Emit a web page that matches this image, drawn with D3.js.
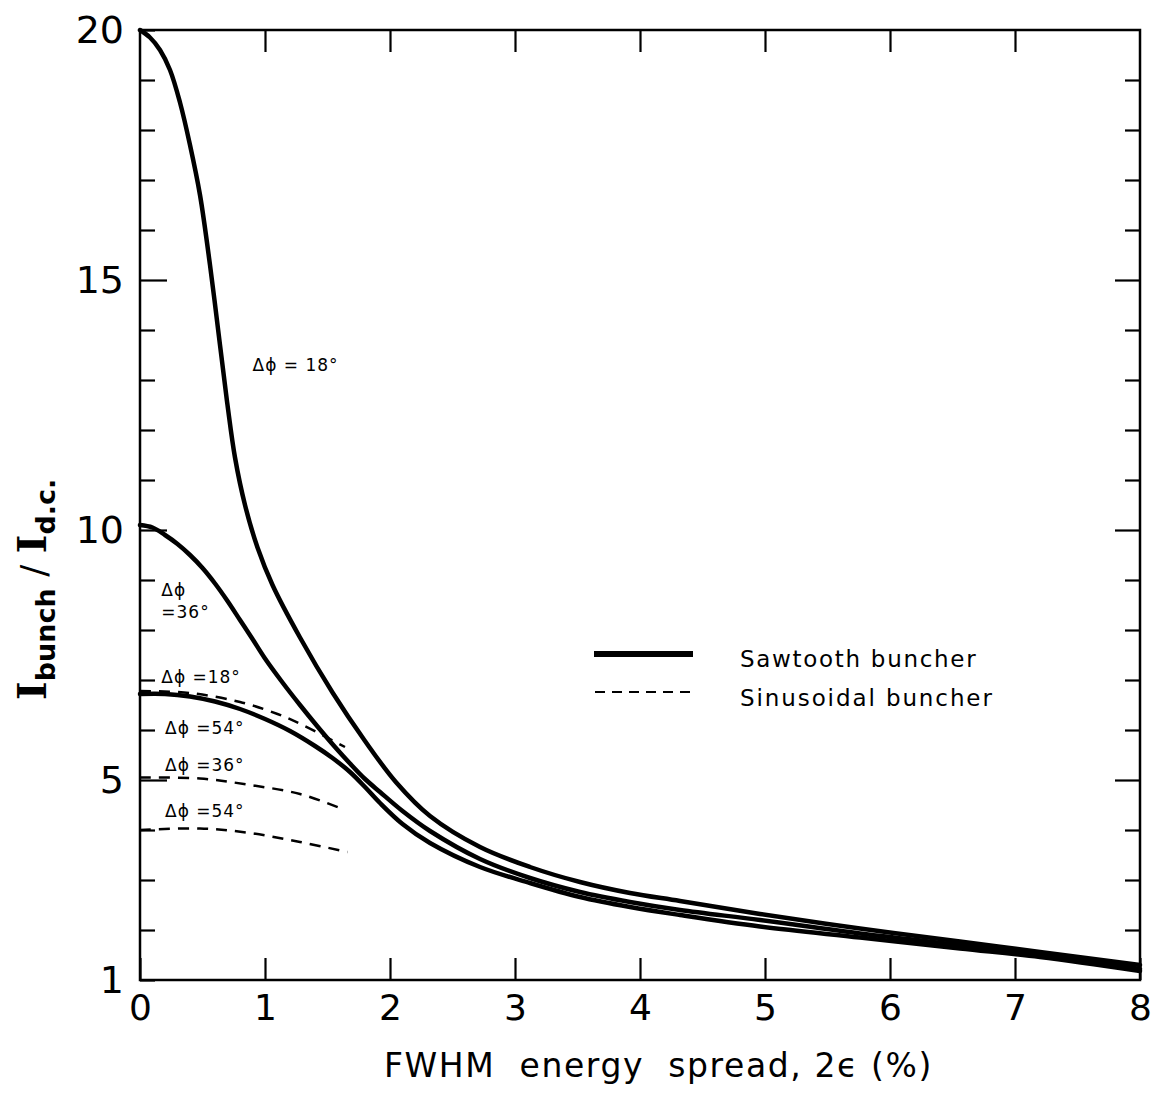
<!DOCTYPE html>
<html>
<head>
<meta charset="utf-8">
<script src="https://cdn.jsdelivr.net/npm/d3@7"></script>
<style>
  body { margin: 0; background: #fff; }
  text { font-family: "DejaVu Sans", sans-serif; fill: #000; }
</style>
</head>
<body>
<div id="chart"></div>
<script>
// Sawtooth buncher, delta phi = 18 deg
const saw18X = [0, 0.08, 0.16, 0.24, 0.32, 0.40, 0.48, 0.56, 0.64, 0.70, 0.76, 0.84, 0.94, 1.06, 1.28, 1.54, 1.80, 2.05, 2.32, 2.72, 3.12, 3.52, 3.92, 4.32, 4.96, 5.76, 6.56, 7.20, 8.0];
const saw18Y = [20, 19.85, 19.6, 19.2, 18.55, 17.7, 16.7, 15.3, 13.7, 12.5, 11.45, 10.5, 9.65, 8.9, 7.85, 6.75, 5.78, 4.95, 4.28, 3.66, 3.26, 2.96, 2.74, 2.58, 2.32, 2.03, 1.77, 1.56, 1.3];
// Sawtooth, 36 deg
const saw36X = [0, 0.1, 0.2, 0.3, 0.4, 0.5, 0.6, 0.7, 0.8, 0.9, 1.0, 1.14, 1.28, 1.42, 1.56, 1.68, 1.8, 1.92, 2.1, 2.32, 2.72, 3.12, 3.52, 3.92, 4.32, 4.96, 5.76, 6.56, 7.2, 8];
const saw36Y = [10.1, 10.05, 9.9, 9.72, 9.5, 9.24, 8.93, 8.58, 8.2, 7.82, 7.43, 6.95, 6.5, 6.07, 5.66, 5.33, 5.02, 4.76, 4.38, 3.98, 3.42, 3.04, 2.76, 2.56, 2.4, 2.2, 1.93, 1.7, 1.52, 1.22];
// Sawtooth, 54 deg
const saw54X = [0, 0.2, 0.4, 0.6, 0.8, 1.0, 1.2, 1.4, 1.54, 1.68, 1.8, 1.92, 2.1, 2.32, 2.72, 3.12, 3.52, 3.92, 4.32, 4.96, 5.76, 6.56, 7.2, 8];
const saw54Y = [6.72, 6.72, 6.67, 6.57, 6.42, 6.22, 5.98, 5.68, 5.44, 5.16, 4.86, 4.54, 4.12, 3.74, 3.26, 2.94, 2.66, 2.46, 2.3, 2.07, 1.85, 1.63, 1.46, 1.18];
// Sinusoidal buncher (dashed)
const sin18X = [0, 0.4, 0.8, 1.1, 1.3, 1.64];
const sin18Y = [6.78, 6.74, 6.56, 6.32, 6.1, 5.66];
const sin36X = [0, 0.48, 0.88, 1.28, 1.64];
const sin36Y = [5.05, 5.03, 4.9, 4.72, 4.4];
const sin54X = [0, 0.48, 0.88, 1.28, 1.66];
const sin54Y = [4.0, 4.03, 3.94, 3.76, 3.56];

const xTicks = [0, 1, 2, 3, 4, 5, 6, 7, 8];
const yTicks = d3.range(1, 21);
const yLabels = [1, 5, 10, 15, 20];
const yMajor = [5, 10, 15];

const width = 1159, height = 1094;
const svg = d3.select("#chart").append("svg")
    .attr("width", width)
    .attr("height", height)
    .style("background", "#fff");

const x = d3.scaleLinear().domain([0, 8]).range([140, 1140]);
const y = d3.scaleLinear().domain([1, 20]).range([980, 30]);

// frame
svg.append("rect")
    .attr("x", x(0)).attr("y", y(20))
    .attr("width", x(8) - x(0)).attr("height", y(1) - y(20))
    .attr("fill", "none").attr("stroke", "#000").attr("stroke-width", 2.5);

// bottom axis (ticks point inward)
const gx = svg.append("g")
    .attr("transform", `translate(0,${y(1)})`)
    .call(d3.axisBottom(x).tickValues(xTicks).tickSize(-22).tickPadding(14).tickFormat(d => d));
gx.select(".domain").remove();
gx.selectAll(".tick line").attr("stroke-width", 2.2);
gx.selectAll(".tick text").attr("font-size", 36).attr("font-family", "DejaVu Sans");

// top axis
const gt = svg.append("g")
    .attr("transform", `translate(0,${y(20)})`)
    .call(d3.axisTop(x).tickValues(xTicks.slice(1, 8)).tickSize(-22).tickFormat(""));
gt.select(".domain").remove();
gt.selectAll(".tick line").attr("stroke-width", 2.2);

// left axis
const gy = svg.append("g")
    .attr("transform", `translate(${x(0)},0)`)
    .call(d3.axisLeft(y).tickValues(yTicks).tickSize(-15).tickPadding(14)
        .tickFormat(d => yLabels.includes(d) ? d : ""));
gy.select(".domain").remove();
gy.selectAll(".tick line")
    .attr("x2", d => yMajor.includes(d) ? 27 : 15)
    .attr("stroke-width", 2.2);
gy.selectAll(".tick text").attr("font-size", 38).attr("font-family", "DejaVu Sans")
    .attr("x", -16);

// right axis
const gr = svg.append("g")
    .attr("transform", `translate(${x(8)},0)`)
    .call(d3.axisRight(y).tickValues(yTicks.slice(1, 19)).tickSize(-15).tickFormat(""));
gr.select(".domain").remove();
gr.selectAll(".tick line")
    .attr("x2", d => yMajor.includes(d) ? -25 : -15)
    .attr("stroke-width", 2.2);

// curves
const line = d3.line()
    .x(d => x(d[0]))
    .y(d => y(d[1]))
    .curve(d3.curveCatmullRom.alpha(0.5));

const solid = [[saw18X, saw18Y], [saw36X, saw36Y], [saw54X, saw54Y]];
const dashed = [[sin18X, sin18Y], [sin36X, sin36Y], [sin54X, sin54Y]];

svg.selectAll(".saw")
    .data(solid)
    .enter()
    .append("path")
    .attr("class", "saw")
    .attr("d", d => line(d[0].map((v, i) => [v, d[1][i]])))
    .attr("fill", "none")
    .attr("stroke", "#000")
    .attr("stroke-width", 4.5)
    .attr("stroke-linecap", "round");

svg.selectAll(".sin")
    .data(dashed)
    .enter()
    .append("path")
    .attr("class", "sin")
    .attr("d", d => line(d[0].map((v, i) => [v, d[1][i]])))
    .attr("fill", "none")
    .attr("stroke", "#000")
    .attr("stroke-width", 2.5)
    .attr("stroke-dasharray", "11,8");

// curve labels
const curveLabels = [
    { t: "\u0394\u03d5 = 18\u00b0", x: 0.9, y: 13.3 },
    { t: "\u0394\u03d5", x: 0.17, y: 8.8 },
    { t: "=36\u00b0", x: 0.17, y: 8.35 },
    { t: "\u0394\u03d5 =18\u00b0", x: 0.17, y: 7.05 },
    { t: "\u0394\u03d5 =54\u00b0", x: 0.2, y: 6.03 },
    { t: "\u0394\u03d5 =36\u00b0", x: 0.2, y: 5.3 },
    { t: "\u0394\u03d5 =54\u00b0", x: 0.2, y: 4.37 }
];
svg.selectAll(".clabel")
    .data(curveLabels)
    .enter()
    .append("text")
    .attr("class", "clabel")
    .attr("x", d => x(d.x))
    .attr("y", d => y(d.y))
    .attr("dy", "0.35em")
    .attr("font-size", 17)
    .attr("letter-spacing", 1)
    .text(d => d.t);

// legend
const legend = svg.append("g");
legend.append("line")
    .attr("x1", 594).attr("x2", 693).attr("y1", 654).attr("y2", 654)
    .attr("stroke", "#000").attr("stroke-width", 6);
legend.append("line")
    .attr("x1", 595).attr("x2", 693).attr("y1", 692).attr("y2", 692)
    .attr("stroke", "#000").attr("stroke-width", 2).attr("stroke-dasharray", "10,7");
legend.append("text").attr("x", 740).attr("y", 667)
    .attr("font-size", 23).attr("letter-spacing", 1.7).text("Sawtooth  buncher");
legend.append("text").attr("x", 740).attr("y", 706)
    .attr("font-size", 23).attr("letter-spacing", 1.9).text("Sinusoidal  buncher");

// x axis title
svg.append("text")
    .attr("x", 384).attr("y", 1077)
    .attr("font-size", 33).attr("letter-spacing", 1.6)
    .attr("xml:space", "preserve")
    .text("FWHM  energy  spread, 2\u03f5 (%)");

// y axis title
const yt = svg.append("text")
    .attr("transform", "translate(46,700) rotate(-90)")
    .attr("xml:space", "preserve");
yt.append("tspan").attr("font-family", "DejaVu Serif").attr("font-size", 40).attr("font-weight", "bold").text("I");
yt.append("tspan").attr("font-size", 27).attr("font-weight", "bold").attr("dy", 9).text("bunch");
yt.append("tspan").attr("font-size", 36).attr("dy", -9).text(" / ");
yt.append("tspan").attr("font-family", "DejaVu Serif").attr("font-size", 40).attr("font-weight", "bold").text("I");
yt.append("tspan").attr("font-size", 27).attr("font-weight", "bold").attr("dy", 9).text("d.c.");
</script>
</body>
</html>
